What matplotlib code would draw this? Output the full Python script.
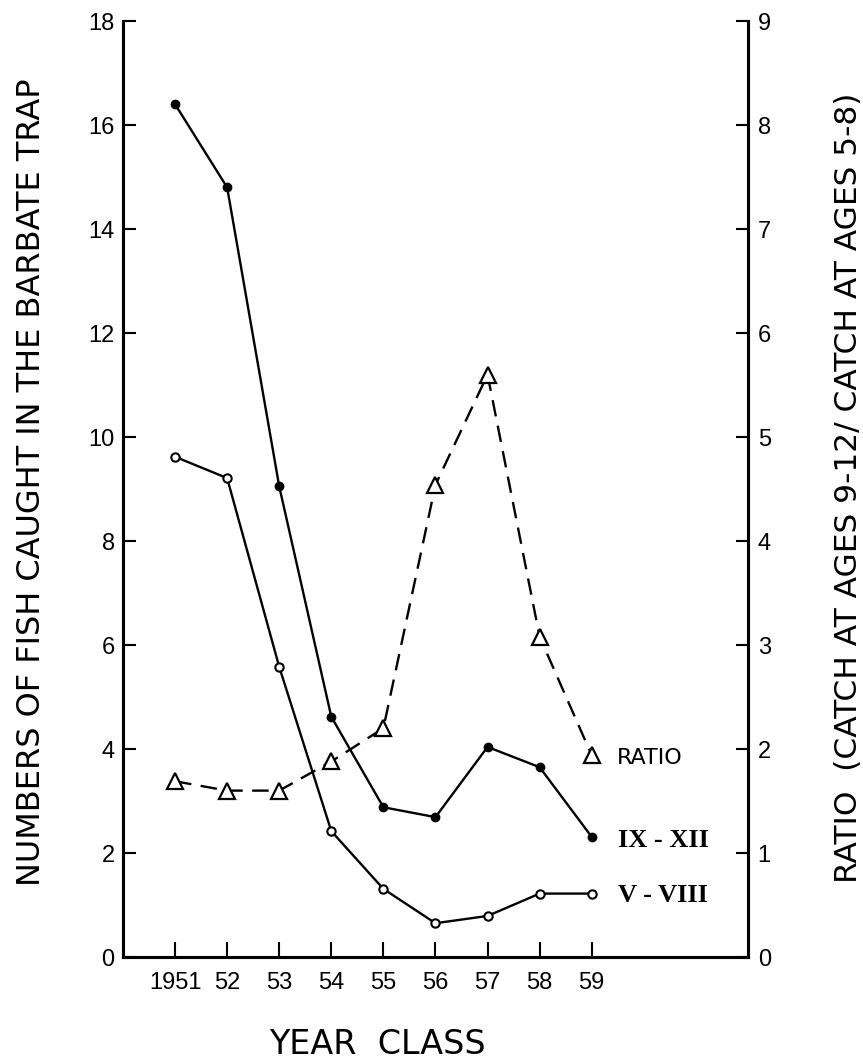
import numpy as np
import matplotlib.pyplot as plt
from matplotlib.transforms import blended_transform_factory

# year classes and catches (numbers of fish per trap)
years = [1951, 1952, 1953, 1954, 1955, 1956, 1957, 1958, 1959]
year_labels = ["1951", "52", "53", "54", "55", "56", "57", "58", "59"]
ages_9_12 = [16.4, 14.8, 9.05, 4.62, 2.88, 2.69, 4.04, 3.65, 2.31]
ages_5_8 = [9.62, 9.21, 5.58, 2.42, 1.31, 0.65, 0.79, 1.22, 1.22]
ratio = [1.69, 1.6, 1.6, 1.88, 2.2, 4.54, 5.6, 3.08, 1.94]

WORD_FONT = ["DejaVu Sans"]
DIGIT_FONT = ["Liberation Sans Narrow", "Liberation Sans", "DejaVu Sans"]
ROMAN_FONT = ["Liberation Serif", "DejaVu Serif"]

fig = plt.figure(figsize=(8.63, 10.61), dpi=100)
ax = fig.add_axes([0.1425, 0.098, 0.7242, 0.8822])
ax2 = ax.twinx()

ax.plot(years, ages_9_12, color="black", lw=1.7, marker="o", ms=6,
        mfc="black", mec="black", zorder=3)
ax.plot(years, ages_5_8, color="black", lw=1.7, marker="o", ms=6,
        mfc="white", mec="black", mew=1.5, zorder=3)
ax2.plot(years, ratio, color="black", lw=1.7, linestyle=(0, (7, 4)),
         marker="^", ms=11, mfc="white", mec="black", mew=1.6, zorder=3)

ax.set_xlim(1950, 1962)
ax.set_ylim(0, 18)
ax2.set_ylim(0, 9)

for a in (ax, ax2):
    a.spines["top"].set_visible(False)
    for s in ("left", "right", "bottom"):
        a.spines[s].set_linewidth(2.2)

ax.set_xticks(years)
ax.set_xticklabels(year_labels, fontfamily=DIGIT_FONT, fontsize=17)
ax.set_yticks(np.arange(0, 19, 2))
ax.set_yticklabels([str(v) for v in range(0, 19, 2)], fontfamily=DIGIT_FONT, fontsize=17)
ax2.set_yticks(np.arange(0, 10, 1))
ax2.set_yticklabels([str(v) for v in range(10)], fontfamily=DIGIT_FONT, fontsize=17)

ax.tick_params(axis="x", direction="in", length=11, width=1.5, pad=11)
ax.tick_params(axis="y", direction="in", length=9, width=1.5, pad=6)
ax2.tick_params(axis="y", direction="in", length=9, width=1.5, pad=7)

# curve labels
ax.text(1959.48, 3.83, "RATIO", fontfamily=WORD_FONT, fontsize=16,
        ha="left", va="center")
ax.text(1959.5, 2.25, "IX - XII", fontfamily=ROMAN_FONT, fontsize=19,
        fontweight="bold", ha="left", va="center")
ax.text(1959.5, 1.19, "V - VIII", fontfamily=ROMAN_FONT, fontsize=19,
        fontweight="bold", ha="left", va="center")

trans = blended_transform_factory(ax.transData, fig.transFigure)
ax.text(1954.88, 1 - 1044 / 1061, "YEAR  CLASS", transform=trans,
        fontfamily=WORD_FONT, fontsize=24, ha="center", va="center")
fig.text(32 / 863, 1 - 482 / 1061, "NUMBERS OF FISH CAUGHT IN THE BARBATE TRAP",
         rotation=90, fontfamily=WORD_FONT, fontsize=23, ha="center", va="center")
fig.text(848 / 863, 1 - 488 / 1061, "RATIO  (CATCH AT AGES 9-12/ CATCH AT AGES 5-8)",
         rotation=90, fontfamily=WORD_FONT, fontsize=22.5, ha="center", va="center")

fig.savefig("out.png", dpi=100)
